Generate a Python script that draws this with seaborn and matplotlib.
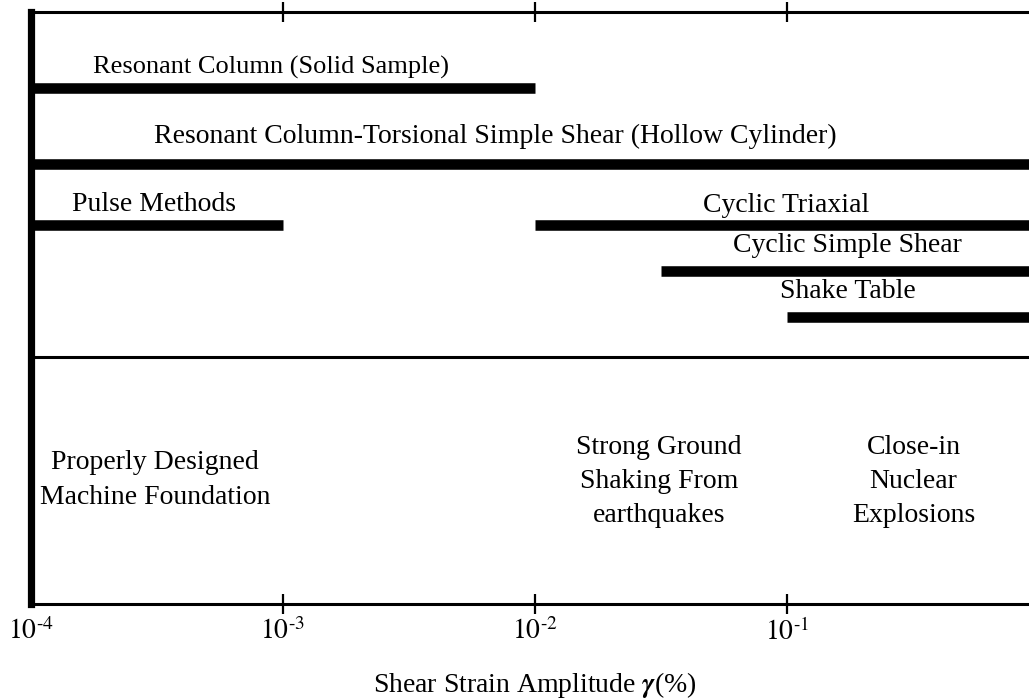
import numpy as np
import pandas as pd
import matplotlib
matplotlib.use("Agg")
import matplotlib.pyplot as plt
from matplotlib.ticker import NullLocator, FixedLocator, FixedFormatter
import seaborn as sns

# ---- data -------------------------------------------------------------
methods = ["Resonant Column (Solid Sample)",
           "Resonant Column-Torsional Simple Shear (Hollow Cylinder)",
           "Pulse Methods", "Cyclic Triaxial", "Cyclic Simple Shear", "Shake Table"]
strain_start = [1e-4, 1e-4, 1e-4, 1e-2, 10 ** -1.5, 1e-1]
strain_end = [1e-2, 1.0, 1e-3, 1.0, 1.0, 1.0]
row = [76, 152, 213.5, 213.5, 259.5, 305.5]

# label positions (strain, row) and alignment
label_x = [1.76e-4, 7.0e-3, 3.08e-4, 0.0998, 0.175, 0.175]
label_y = [62, 131, 199, 200, 240, 286]
label_ha = ["left", "center", "center", "center", "center", "center"]
label_fs = [19, 20, 20, 20, 20, 20]

phenomena = ["Properly Designed\nMachine Foundation",
             "Strong Ground\nShaking From\nearthquakes",
             "Close-in\nNuclear\nExplosions"]
phen_x = [3.11e-4, 0.0312, 0.319]
phen_y = [468, 469.5, 469.5]

divider_row = 345
tick_vals = [1e-4, 1e-3, 1e-2, 1e-1]
tick_labels = [r"$10^{\text{-}4}$", r"$10^{\text{-}3}$", r"$10^{\text{-}2}$", r"$10^{\text{-}1}$"]
xlabel = r"Shear Strain Amplitude $\boldsymbol{\gamma}$(%)"

# ---- style -----------------------------------------------------------
sns.set_theme(style="ticks")
plt.rcParams["font.family"] = ["Liberation Serif", "DejaVu Serif"]
plt.rcParams["mathtext.fontset"] = "stix"

fig = plt.figure(figsize=(10.29, 6.99), dpi=100)
ax = fig.add_axes([31 / 1029, 95 / 699, 1007.5 / 1029, 592 / 699])

# long-format frame for the bars
df = pd.DataFrame({
    "method": np.repeat(methods, 2),
    "strain": np.ravel(np.column_stack([strain_start, strain_end])),
    "row": np.repeat(row, 2),
})
sns.lineplot(data=df, x="strain", y="row", units="method", estimator=None,
             color="black", lw=7.6, solid_capstyle="butt", ax=ax, legend=False)

ax.set_xscale("log")
ax.set_xlim(1e-4, 1.0)
ax.set_ylim(592, 0)

ax.axhline(divider_row, color="black", lw=2.2)

fs = 20
for t, x, y, ha, f in zip(methods, label_x, label_y, label_ha, label_fs):
    ax.text(x, y, t, ha=ha, va="baseline", fontsize=f, color="black")
for t, x, y in zip(phenomena, phen_x, phen_y):
    ax.text(x, y, t, ha="center", va="center", fontsize=fs, color="black",
            multialignment="center", linespacing=1.5)

# axes styling
for s in ["top", "bottom"]:
    ax.spines[s].set_linewidth(2.2)
    ax.spines[s].set_color("black")
ax.spines["left"].set_linewidth(5.2)
ax.spines["left"].set_color("black")
ax.spines["right"].set_visible(False)

ax.xaxis.set_major_locator(FixedLocator(tick_vals))
ax.xaxis.set_major_formatter(FixedFormatter(tick_labels))
ax.xaxis.set_minor_locator(NullLocator())
ax.tick_params(axis="x", which="major", direction="inout", top=True, bottom=True,
               length=15, width=1.6, color="black", labelsize=fs, pad=3,
               labelcolor="black")
ax.set_yticks([])
ax.set_ylabel("")
ax.set_xlabel(xlabel, fontsize=fs, labelpad=17, color="black")

# the first tick sits on the thick left spine: hide its marks, keep its label
fig.canvas.draw()
first = ax.xaxis.get_major_ticks()[0]
first.tick1line.set_visible(False)
first.tick2line.set_visible(False)

fig.savefig("out.png", dpi=100, facecolor="white")
